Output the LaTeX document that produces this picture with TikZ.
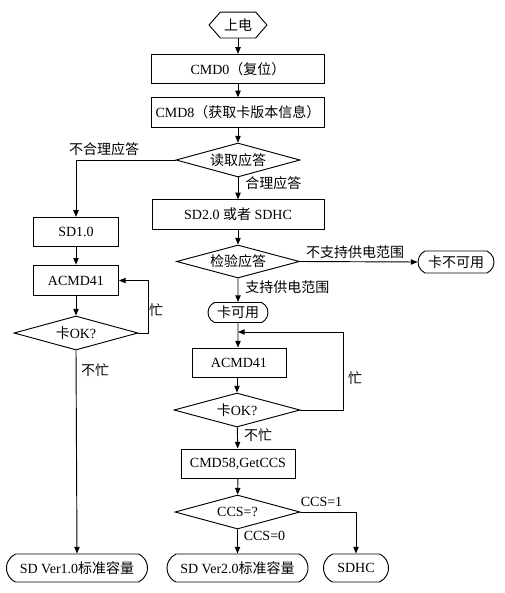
\documentclass[tikz,border=0pt]{standalone}
\usepackage{fontspec}
\setmainfont{Liberation Serif}
\newfontfamily\cjk{Noto Sans CJK SC}
\usetikzlibrary{arrows.meta,shapes.geometric,shapes.misc}
\begin{document}
\begin{tikzpicture}[x=0.75pt,y=-0.75pt,
  font=\fontsize{10.5}{12}\selectfont,
  line width=0.7pt,
  >={Triangle[length=5pt,width=4pt]},
  procbox/.style={draw, rectangle, inner sep=0pt, minimum height=22pt},
  decision/.style={draw, diamond, aspect=3.6, inner sep=0pt, minimum width=93pt, minimum height=25.5pt},
  terminal/.style={draw, rounded rectangle, rounded rectangle arc length=130, inner sep=0pt, minimum height=21pt},
  lbl/.style={inner sep=0pt},
  arr/.style={->}]
\useasboundingbox (0,0) rectangle (504,593);
% nodes
\node[inner sep=0pt, minimum width=42.75pt, minimum height=18.75pt] (pw) at (238,25) {\cjk 上电};
\draw (pw.west) -- ([xshift=8.5pt]pw.north west) -- ([xshift=-8.5pt]pw.north east) -- (pw.east) -- ([xshift=-8.5pt]pw.south east) -- ([xshift=8.5pt]pw.south west) -- cycle;
\node[procbox, minimum width=129.75pt] (cmd0) at (238,69) {CMD0{\cjk （复位）}};
\node[procbox, minimum width=129.75pt] (cmd8) at (238,112.5) {CMD8{\cjk （获取卡版本信息）}};
\node[decision] (d1) at (238,160) {\cjk 读取应答};
\node[procbox, minimum width=63.75pt] (sd10) at (76,232) {SD1.0};
\node[procbox, minimum width=129pt] (sd20) at (238,214.5) {SD2.0 {\cjk 或者} SDHC};
\node[procbox, minimum width=63.75pt, minimum height=23pt] (acl) at (76,280.5) {ACMD41};
\node[decision, minimum width=92.25pt, minimum height=24.75pt] (d2) at (238,261.5) {\cjk 检验应答};
\node[terminal, minimum width=57pt, minimum height=16.5pt] (bad) at (456,262) {\cjk 卡不可用};
\node[terminal, minimum width=45pt, minimum height=15pt] (ok) at (238,312.5) {\cjk 卡可用};
\node[decision] (dl) at (76,333) {{\cjk 卡}OK?};
\node[procbox, minimum width=70.5pt, minimum height=21.75pt] (acr) at (239,362.5) {ACMD41};
\node[decision, minimum width=94.5pt] (dr) at (237,410) {{\cjk 卡}OK?};
\node[procbox, minimum width=85.5pt, minimum height=21.75pt] (cmd58) at (238,463.5) {CMD58,GetCCS};
\node[decision, minimum width=93.75pt] (dccs) at (237.5,512) {CCS=?};
\node[terminal, minimum width=105.75pt] (v1) at (77,568) {SD Ver1.0{\cjk 标准容量}};
\node[terminal, minimum width=105.75pt] (v2) at (237.5,568) {SD Ver2.0{\cjk 标准容量}};
\node[terminal, minimum width=48.75pt] (sdhc) at (356,568) {SDHC};
\coordinate (join) at (238,332);
% labels
\node[lbl] (l1) at (104,149) {\cjk 不合理应答};
\node[lbl, anchor=west] (l2) at (245,183) {\cjk 合理应答};
\node[lbl] (l3) at (355,252) {\cjk 不支持供电范围};
\node[lbl, anchor=west] (l4) at (245,287) {\cjk 支持供电范围};
\node[lbl] (l5) at (156,310) {\cjk 忙};
\node[lbl] (l6) at (95,370) {\cjk 不忙};
\node[lbl] (l7) at (355,378) {\cjk 忙};
\node[lbl] (l8) at (258,435) {\cjk 不忙};
\node[lbl] (l9) at (321.5,502) {CCS=1};
\node[lbl] (l10) at (264.5,536) {CCS=0};
% connectors
\draw[arr] (pw) -- (cmd0);
\draw[arr] (cmd0) -- (cmd8);
\draw[arr] (cmd8) -- (d1);
\draw[arr] (d1.west) -| (sd10.north);
\draw[arr] (d1) -- (sd20);
\draw[arr] (sd10) -- (acl);
\draw[arr] (acl) -- (dl);
\draw[arr] (dl.east) -- ++(10,0) |- (acl.east);
\draw[arr] (dl.south) -- (v1.north);
\draw[arr] (sd20) -- (d2);
\draw[arr] (d2.east) -- (bad.west);
\draw[arr] (d2) -- (ok);
\draw[arr] (ok) -- (acr.north -| ok);
\draw[arr] (dr.east) -- ++(43,0) |- (join);
\draw[arr] (acr.south -| dr) -- (dr);
\draw[arr] (dr) -- (cmd58);
\draw[arr] (cmd58) -- (dccs);
\draw[arr] (dccs) -- (v2);
\draw[arr] (dccs.east) -| (sdhc.north);
\end{tikzpicture}
\end{document}
